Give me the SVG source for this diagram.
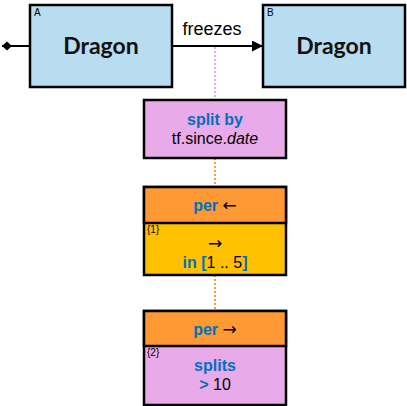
<svg xmlns="http://www.w3.org/2000/svg" width="407" height="406" viewBox="0 0 407 406">
<style>
.box{stroke:#000;stroke-width:2.5}
.blue{fill:#B8DCF0}.pink{fill:#E8AAE8}.orange{fill:#FF9933}.yellow{fill:#FFC000}
.big{font-family:Lato,"Liberation Sans",sans-serif;font-weight:bold;font-size:23px;fill:#111}
.t{font-family:"Liberation Sans",Arial,sans-serif;font-size:16px;fill:#000}
.b{font-weight:bold;fill:#0070C0}
.ar{font-family:"DejaVu Sans",sans-serif;font-size:17px}
.s{font-family:"Liberation Sans",Arial,sans-serif;font-size:10px;fill:#000}
</style>
<defs>
<marker id="arr" viewBox="0 0 10 10" refX="10" refY="5" markerWidth="11" markerHeight="11" markerUnits="userSpaceOnUse" orient="auto"><path d="M0,0 L10,5 L0,10 z" fill="#000"/></marker>
<marker id="dia" viewBox="0 0 10 10" refX="10" refY="5" markerWidth="10" markerHeight="10" markerUnits="userSpaceOnUse" orient="auto"><path d="M0,5 L5,0.5 L10,5 L5,9.5 z" fill="#000"/></marker>
</defs>
<g id="connectors">
<line x1="30" y1="46" x2="2" y2="46" stroke="#000" stroke-width="2" marker-end="url(#dia)"/>
<line x1="172" y1="46" x2="263" y2="46" stroke="#000" stroke-width="2" marker-end="url(#arr)"/>
<text class="t" x="212" y="35" text-anchor="middle" style="font-size:18px">freezes</text>
<line x1="215" y1="47" x2="215" y2="100" stroke="#E8AAE8" stroke-width="2" stroke-dasharray="2,2"/>
<line x1="215" y1="158" x2="215" y2="187" stroke="#FF9933" stroke-width="2" stroke-dasharray="2,2"/>
<line x1="215" y1="275" x2="215" y2="311" stroke="#FF9933" stroke-width="2" stroke-dasharray="2,2"/>
</g>
<g id="nodeA">
<rect class="box blue" x="30" y="5" width="142" height="82"/>
<text class="s" x="34" y="16">A</text>
<text class="big" x="101" y="54" text-anchor="middle">Dragon</text>
</g>
<g id="nodeB">
<rect class="box blue" x="263" y="5" width="142" height="82"/>
<text class="s" x="267" y="16">B</text>
<text class="big" x="334" y="54" text-anchor="middle">Dragon</text>
</g>
<g id="split">
<rect class="box pink" x="144" y="100" width="142" height="58"/>
<text class="t b" x="215" y="125" text-anchor="middle">split by</text>
<text class="t" x="215" y="144" text-anchor="middle">tf.since.<tspan font-style="italic">date</tspan></text>
</g>
<g id="per1">
<rect class="box yellow" x="144" y="187" width="142" height="88"/>
<rect class="box orange" x="144" y="187" width="142" height="36"/>
<text class="t" x="215" y="211" text-anchor="middle"><tspan class="b">per</tspan> <tspan class="ar">←</tspan></text>
<text class="s" x="147" y="233">{1}</text>
<text class="t ar" x="215" y="249" text-anchor="middle">→</text>
<text class="t" x="215" y="268" text-anchor="middle"><tspan class="b">in [</tspan>1 .. 5<tspan class="b">]</tspan></text>
</g>
<g id="per2">
<rect class="box pink" x="144" y="311" width="142" height="94"/>
<rect class="box orange" x="144" y="311" width="142" height="35"/>
<text class="t" x="215" y="335" text-anchor="middle"><tspan class="b">per</tspan> <tspan class="ar">→</tspan></text>
<text class="s" x="147" y="356">{2}</text>
<text class="t b" x="215" y="371" text-anchor="middle">splits</text>
<text class="t" x="215" y="390" text-anchor="middle"><tspan class="b">&gt;</tspan> 10</text>
</g>
</svg>
